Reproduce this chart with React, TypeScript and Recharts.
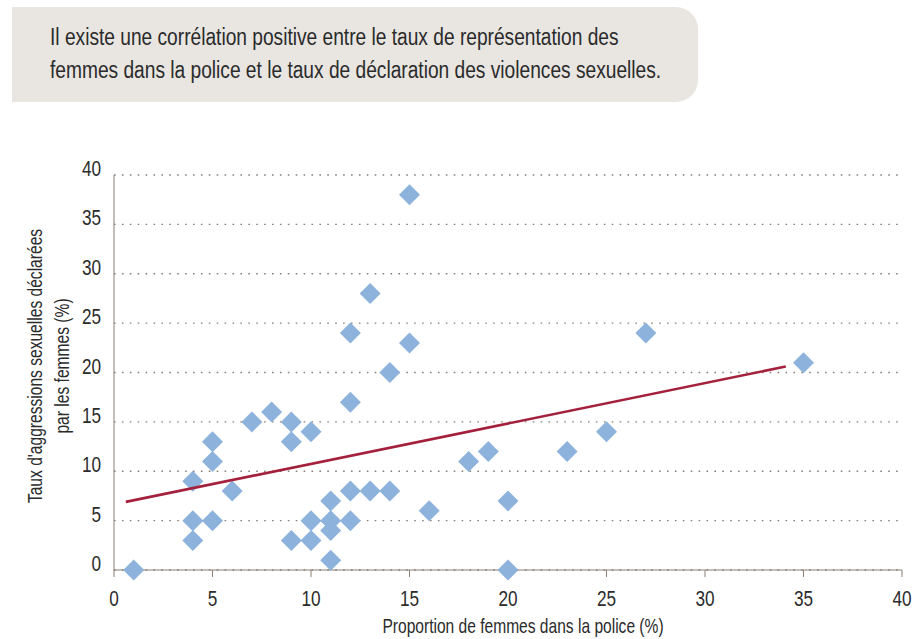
import { ScatterChart, Scatter, XAxis, YAxis, CartesianGrid, Label } from "recharts";

const FONT = "'Liberation Sans', Arial, sans-serif";
const SQUEEZE = 0.8;
const TEXT = "#2b2b2b";

// proportion de femmes dans la police (%)
const policeShare = [1, 4, 4, 4, 5, 5, 5, 6, 7, 8, 9, 9, 9, 10, 10, 10, 11, 11, 11, 11, 12, 12, 12, 12, 13, 13, 14, 14, 15, 15, 16, 18, 19, 20, 20, 23, 25, 27, 35];
// taux d'aggressions sexuelles déclarées (%)
const reportedRate = [0, 9, 5, 3, 13, 11, 5, 8, 15, 16, 15, 13, 3, 14, 5, 3, 7, 5, 4, 1, 24, 17, 8, 5, 28, 8, 20, 8, 38, 23, 6, 11, 12, 7, 0, 12, 14, 24, 21];

const trendX = [0.6, 34.1];
const trendY = [6.9, 20.6];

const ticks = [0, 5, 10, 15, 20, 25, 30, 35, 40];

const points = policeShare.map((x, i) => ({ x, y: reportedRate[i] }));
const trend = trendX.map((x, i) => ({ x, y: trendY[i] }));

const Diamond = (props: any) => {
  const { cx, cy } = props;
  const r = 10.5;
  return <polygon points={`${cx},${cy - r} ${cx + r},${cy} ${cx},${cy + r} ${cx - r},${cy}`} fill="#8db3dd" />;
};

// condensed-looking text: squeeze a regular face horizontally
const XTick = (props: any) => {
  const { x, y, payload } = props;
  return (
    <text transform={`translate(${x},${y + 29}) scale(${SQUEEZE},1)`} textAnchor="middle" fontFamily={FONT} fontSize={21.5} fill={TEXT}>
      {payload.value}
    </text>
  );
};

const YTick = (props: any) => {
  const { x, y, payload } = props;
  return (
    <text transform={`translate(${x},${y + 1}) scale(${SQUEEZE},1)`} textAnchor="end" fontFamily={FONT} fontSize={21.5} fill={TEXT}>
      {payload.value}
    </text>
  );
};

export default function App() {
  return (
    <div style={{ position: "absolute", left: 0, top: 0, width: 913, height: 639, background: "#fff", fontFamily: FONT }}>
      <div
        style={{
          position: "absolute",
          left: 12,
          top: 7,
          width: 686,
          height: 95,
          background: "#e9e6e2",
          borderRadius: "0 22px 22px 0",
        }}
      >
        <div
          style={{
            position: "absolute",
            left: 38,
            top: 14,
            fontSize: 23.5,
            lineHeight: "33px",
            color: TEXT,
            whiteSpace: "nowrap",
            transform: "scaleX(0.815)",
            transformOrigin: "0 0",
          }}
        >
          Il existe une corrélation positive entre le taux de représentation des
          <br />
          femmes dans la police et le taux de déclaration des violences sexuelles.
        </div>
      </div>
      <div style={{ position: "absolute", left: 0, top: 0 }}>
        <ScatterChart width={913} height={639} margin={{ top: 175, right: 11, bottom: 0, left: 0 }}>
          <CartesianGrid vertical={false} stroke="#8a7e72" strokeDasharray="1.6 6.3" strokeWidth={1.3} />
          <XAxis
            type="number"
            dataKey="x"
            domain={[0, 40]}
            ticks={ticks}
            height={69}
            stroke="#8a7e72"
            tickSize={7}
            tickMargin={0}
            tick={<XTick />}
            interval={0}
          >
            <Label
              content={(p: any) => {
                const vb = p.viewBox || {};
                const cx = vb.x + vb.width / 2 + 15;
                return (
                  <text transform={`translate(${cx},633) scale(0.76,1)`} textAnchor="middle" fontFamily={FONT} fontSize={20.5} fill={TEXT}>
                    Proportion de femmes dans la police (%)
                  </text>
                );
              }}
            />
          </XAxis>
          <YAxis
            type="number"
            dataKey="y"
            domain={[0, 40]}
            ticks={ticks}
            width={114}
            stroke="#8a7e72"
            tickLine={false}
            tickSize={0}
            tickMargin={13}
            tick={<YTick />}
            interval={0}
          >
            <Label
              content={() => (
                <text transform="translate(0,366) rotate(-90) scale(0.78,1)" textAnchor="middle" fontFamily={FONT} fontSize={20} fill={TEXT}>
                  <tspan x={0} y={42}>Taux d'aggressions sexuelles déclarées</tspan>
                  <tspan x={0} y={69}>par les femmes (%)</tspan>
                </text>
              )}
            />
          </YAxis>
          <Scatter data={points} shape={Diamond} isAnimationActive={false} />
          <Scatter data={trend} line={{ stroke: "#a3213d", strokeWidth: 2.6 }} shape={() => <g />} isAnimationActive={false} />
        </ScatterChart>
      </div>
    </div>
  );
}
